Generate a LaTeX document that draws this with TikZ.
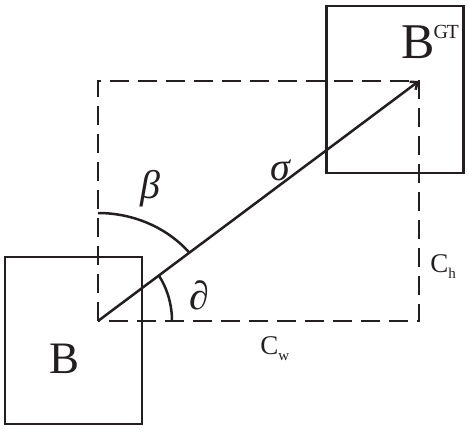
\documentclass[tikz,border=0pt]{standalone}
\usepackage{fontspec}
\setmainfont{Liberation Serif}
\usetikzlibrary{arrows.meta}
\definecolor{figInk}{HTML}{231F20}

\begin{document}
\begin{tikzpicture}[x=1pt,y=1pt,line width=2.5pt,draw=figInk,text=figInk,
    bbox/.style={draw,minimum width=137pt,minimum height=167pt,inner sep=0pt},
    cdash/.style={dash pattern=on 19pt off 9pt},
    glabel/.style={inner sep=0pt,font=\fontsize{40}{40}\selectfont\itshape},
    clabel/.style={inner sep=0pt,anchor=base west,font=\fontsize{27}{27}\selectfont}]
  \useasboundingbox (0,0) rectangle (468,432);
  \node[bbox] (bx)  at (73.5,91.5) {};
  \node[bbox] (bgt) at (395,342.5) {};
  \node[inner sep=0pt,anchor=base west,font=\fontsize{45}{45}\selectfont] (bname) at (48,59) {B};
  \node[inner sep=0pt,anchor=base west] (gtname) at (400,373)
    {\fontsize{50}{50}\selectfont B\kern-1pt\raisebox{20pt}{\fontsize{20}{20}\selectfont G\kern-1.5pt T}};
  \coordinate (o) at (98,111);
  \coordinate (e) at (419,351);
  \draw[cdash] (o) -- (o |- e) -- (e) -- (e |- o) -- cycle;
  \draw[-{Straight Barb[length=6pt,width=10pt]}] (o) -- (e);
  \draw ([yshift=108pt]o) arc[start angle=90,end angle=39.3,x radius=118pt,y radius=108pt];
  \draw ([xshift=74pt]o) arc[start angle=0,end angle=34.7,x radius=74pt,y radius=80pt];
  \node[glabel] (beta)  at (150,243) {β};
  \node[glabel] (sigma) at (280,262) {σ};
  \node[glabel] (part)  at (199,137) {∂};
  \node[clabel] (ch) at (429,160) {C\raisebox{-6pt}{\fontsize{15}{15}\selectfont h}};
  \node[clabel] (cw) at (259,78) {C\raisebox{-6pt}{\fontsize{15}{15}\selectfont w}};
\end{tikzpicture}
\end{document}
